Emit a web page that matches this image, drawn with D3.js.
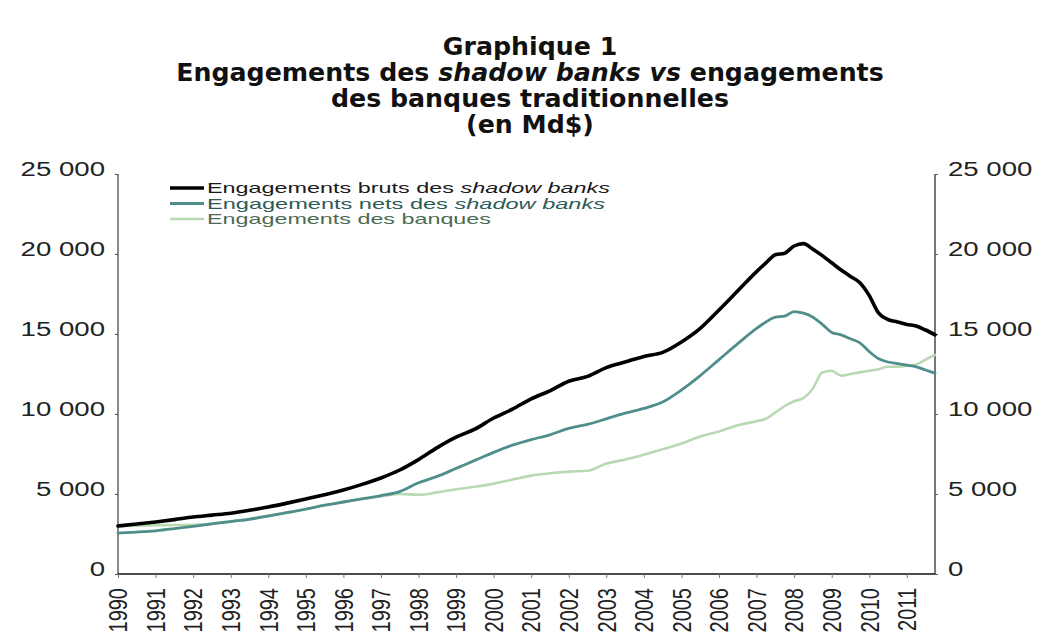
<!DOCTYPE html>
<html><head><meta charset="utf-8">
<script src="https://cdn.jsdelivr.net/npm/d3@7/dist/d3.min.js"></script>
<style>html,body{margin:0;padding:0;background:#fff;}svg{display:block;}</style>
</head><body><svg id="c" width="1042" height="641"></svg>
<script>
// ---- data ----
const times = [1990,1990.5,1991,1991.5,1992,1992.5,1993,1993.5,1994,1994.5,1995,1995.5,1996,1996.5,1997,1997.5,1998,1998.5,1999,1999.5,2000,2000.5,2001,2001.5,2002,2002.5,2003,2003.5,2004,2004.5,2005,2005.5,2006,2006.5,
  2007,2007.25,2007.5,2007.75,2008,2008.25,2008.5,2008.75,2009,2009.25,2009.5,2009.75,2010,2010.25,2010.5,2010.75,2011,2011.25,2011.5,2011.75];
const bruts = [3000,3120,3250,3400,3560,3680,3800,3980,4190,4430,4690,4960,5250,5600,6000,6500,7150,7900,8550,9050,9750,10300,10950,11450,12050,12350,12900,13250,13600,13850,14500,15350,16500,17700,
  18900,19450,19950,20050,20500,20650,20300,19900,19450,19000,18600,18200,17400,16300,15900,15750,15600,15500,15250,14950];
const nets = [2560,2620,2700,2830,2980,3130,3280,3420,3620,3830,4050,4300,4500,4700,4900,5150,5700,6100,6600,7100,7600,8050,8400,8700,9100,9350,9700,10050,10350,10750,11500,12400,13400,14400,
  15350,15750,16060,16120,16400,16300,16050,15600,15100,14950,14700,14450,13900,13450,13250,13150,13050,12950,12750,12550];
const banques = [3000,3020,3050,3060,3080,3150,3300,3450,3650,3850,4050,4300,4500,4700,4850,5000,4950,5100,5300,5450,5650,5900,6150,6300,6400,6450,6900,7150,7450,7800,8150,8600,8900,9300,
  9550,9700,10100,10500,10800,11000,11600,12600,12700,12400,12500,12600,12700,12800,12950,12950,13000,13100,13400,13700];
const yTicks = [0,5000,10000,15000,20000,25000];
const xTickYears = [1990,1991,1992,1993,1994,1995,1996,1997,1998,1999,2000,2001,2002,2003,2004,2005,2006,2007,2008,2009,2010,2011];
const seriesNames = ["Engagements bruts des ", "Engagements nets des ", "Engagements des banques"];
const titleLines = ["Graphique 1", "Engagements des |shadow banks vs| engagements", "des banques traditionnelles", "(en Md$)"];

// ---- layout ----
const svg = d3.select("#c");
const X0 = 118, X1 = 935, Y0 = 574, Y1 = 174;
const x = d3.scaleLinear().domain([1990, 2011.75]).range([X0, X1]);
const y = d3.scaleLinear().domain([0, 25000]).range([Y0, Y1]);
const fr = d3.formatLocale({decimal: ",", thousands: "\u00a0", grouping: [3], currency: ["", "$"]});
const fmt = fr.format(",d");

// title
const tg = svg.append("g").attr("font-family", "'DejaVu Sans Condensed','DejaVu Sans',sans-serif")
  .attr("font-weight", "bold").attr("font-size", 24).attr("fill", "#111");
const tBase = [55, 81, 107, 133];
titleLines.forEach((ln, i) => {
  const t = tg.append("text").attr("x", 530).attr("y", tBase[i]).attr("text-anchor", "middle")
    .attr("transform", `translate(530,0) scale(1.17,1) translate(-530,0)`);
  ln.split("|").forEach((part, j) => {
    t.append("tspan").attr("font-style", j === 1 ? "italic" : "normal").text(part);
  });
});

// axes lines
svg.append("line").attr("x1", X0).attr("x2", X0).attr("y1", Y1).attr("y2", Y0).attr("stroke", "#8a8a8a").attr("stroke-width", 2);
svg.append("line").attr("x1", X1).attr("x2", X1).attr("y1", Y1).attr("y2", Y0).attr("stroke", "#555").attr("stroke-width", 1.6);

const leftAxis = d3.axisLeft(y).tickValues(yTicks).tickSize(3).tickPadding(10).tickFormat(fmt);
const gL = svg.append("g").attr("transform", `translate(${X0},0)`).call(leftAxis);
gL.select(".domain").remove();
const rightAxis = d3.axisRight(y).tickValues(yTicks).tickSize(3).tickPadding(10).tickFormat(fmt);
const gR = svg.append("g").attr("transform", `translate(${X1},0)`).call(rightAxis);
gR.select(".domain").remove();
[gL, gR].forEach(g => {
  g.selectAll(".tick line").attr("stroke", "#555");
  g.selectAll(".tick text").attr("font-family", "'Liberation Sans',Arial,sans-serif").attr("font-size", 20)
    .attr("fill", "#222").attr("dy", "0.05em");
});
gL.selectAll(".tick text").each(function(){ const w = this.getComputedTextLength(); d3.select(this).attr("textLength", w*1.38).attr("lengthAdjust","spacingAndGlyphs"); });
gR.selectAll(".tick text").each(function(){ const w = this.getComputedTextLength(); d3.select(this).attr("textLength", w*1.38).attr("lengthAdjust","spacingAndGlyphs"); });

const bottomAxis = d3.axisBottom(x).tickValues(xTickYears).tickSize(4).tickFormat(d3.format("d"));
const gB = svg.append("g").attr("transform", `translate(0,${Y0})`).call(bottomAxis);
gB.select(".domain").attr("stroke", "#111").attr("stroke-width", 1.6).attr("d", `M${X0},0H${X1}`);
gB.selectAll(".tick line").attr("stroke", "#777");
gB.selectAll(".tick text").attr("font-family", "'Liberation Sans',Arial,sans-serif").attr("font-size", 20)
  .attr("fill", "#222").attr("text-anchor", "end").attr("y", 0).attr("dy", "0.35em")
  .attr("transform", "translate(0,14) rotate(-90) scale(1,1.25)");

// lines
const line = d3.line().x((d, i) => x(times[i])).y(d => y(d)).curve(d3.curveMonotoneX);
const series = [
  {vals: banques, color: "#b9d8b4", w: 2.6},
  {vals: nets, color: "#4f8e8b", w: 2.8},
  {vals: bruts, color: "#000", w: 3.6}
];
series.forEach(s => {
  svg.append("path").attr("d", line(s.vals)).attr("fill", "none").attr("stroke", s.color)
    .attr("stroke-width", s.w).attr("stroke-linejoin", "round").attr("stroke-linecap", "round");
});

// legend
const leg = [
  {name: seriesNames[0], it: "shadow banks", color: "#000", w: 3.6, tc: "#1a1a1a", len: 403},
  {name: seriesNames[1], it: "shadow banks", color: "#4f8e8b", w: 2.8, tc: "#2d5b58", len: 398},
  {name: seriesNames[2], it: "", color: "#b9d8b4", w: 2.6, tc: "#4c6b52", len: 284}
];
const lg = svg.append("g");
leg.forEach((l, i) => {
  const yy = 188 + i * 15.5;
  lg.append("line").attr("x1", 170).attr("x2", 204).attr("y1", yy).attr("y2", yy).attr("stroke", l.color).attr("stroke-width", l.w);
  const t = lg.append("text").attr("x", 207).attr("y", yy + 5).attr("font-family", "'Liberation Sans',Arial,sans-serif")
    .attr("font-size", 14.5).attr("fill", l.tc).attr("textLength", l.len).attr("lengthAdjust", "spacingAndGlyphs");
  t.append("tspan").text(l.name);
  if (l.it) t.append("tspan").attr("font-style", "italic").text(l.it);
});
</script></body></html>
